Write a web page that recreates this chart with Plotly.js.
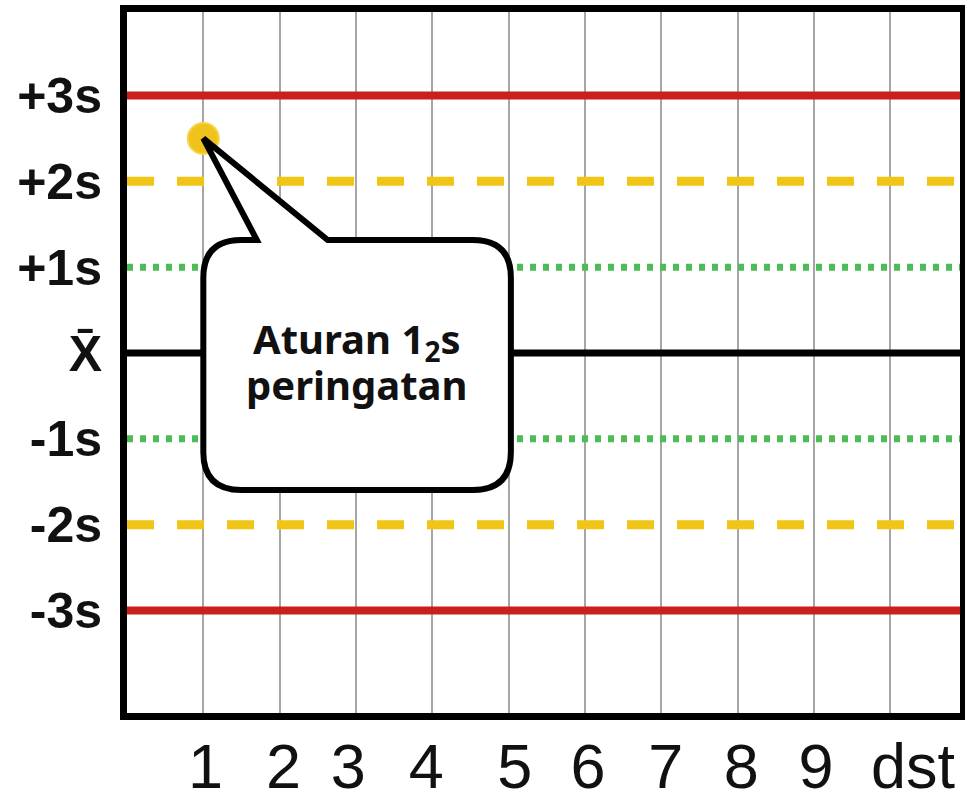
<!DOCTYPE html>
<html>
<head>
<meta charset="utf-8">
<script src="https://cdn.plot.ly/plotly-3.0.1.min.js"></script>
<style>html,body{margin:0;padding:0;background:#fff;}</style>
</head>
<body>
<div id="chart" style="width:965px;height:804px;"></div>
<script>
// ---- data ----
const limitLevels = [3, 2, 1, 0, -1, -2, -3];
const limitNames  = ["+3s", "+2s", "+1s", "mean", "-1s", "-2s", "-3s"];
const yTickText   = ["+3s", "+2s", "+1s", "X\u0304", "-1s", "-2s", "-3s"];
const runNumbers  = [1, 2, 3, 4, 5, 6, 7, 8, 9, 10];
const xTickText   = ["1", "2", "3", "4", "5", "6", "7", "8", "9", "dst"];
const xLabelPos   = [1.03, 2.05, 2.90, 3.92, 5.08, 6.04, 7.06, 8.05, 9.03, 10.30];
const pointX      = [1];
const pointY      = [2.5];
const calloutLine1 = "Aturan 1<sub>2</sub>s";
const calloutLine2 = "peringatan";

// ---- styles ----
const xRange = [0, 10.915];
const yRange = [-4.194, 3.973];
const lineStyles = {
  "3":  {color: "#c9201d", width: 8, dash: "solid"},
  "2":  {color: "#f1c516", width: 9, dash: "27px,23px"},
  "1":  {color: "#4dbb58", width: 7, dash: "6px,7px"},
  "0":  {color: "#000000", width: 7, dash: "solid"}
};

const traces = limitLevels.map((lv, i) => {
  const st = lineStyles[String(Math.abs(lv))];
  return {
    x: xRange, y: [lv, lv], mode: "lines", name: limitNames[i],
    line: {color: st.color, width: st.width, dash: st.dash},
    hoverinfo: "skip", showlegend: false
  };
});
traces.push({
  x: pointX, y: pointY, mode: "markers", showlegend: false,
  marker: {color: "#f0c21c", size: 31, line: {color: "#f5d44a", width: 2}}
});
// invisible trace carrying the label axis
traces.push({x: xLabelPos, y: xLabelPos.map(() => 0), xaxis: "x2", mode: "markers",
  showlegend: false, hoverinfo: "skip", marker: {opacity: 0, size: 1}});

// ---- callout (speech bubble) in data coordinates ----
const tip = [pointX[0], pointY[0]];
const box = {x0: 1.0, x1: 5.03, y0: -1.596, y1: 1.317, rx: 0.50, ry: 0.44};
const baseL = 1.70, baseR = 2.63;
const P = (x, y) => x.toFixed(4) + "," + y.toFixed(4);
const path =
  "M" + P(baseL, box.y1) +
  " L" + P(tip[0], tip[1]) +
  " L" + P(baseR, box.y1) +
  " L" + P(box.x1 - box.rx, box.y1) +
  " Q" + P(box.x1, box.y1) + " " + P(box.x1, box.y1 - box.ry) +
  " L" + P(box.x1, box.y0 + box.ry) +
  " Q" + P(box.x1, box.y0) + " " + P(box.x1 - box.rx, box.y0) +
  " L" + P(box.x0 + box.rx, box.y0) +
  " Q" + P(box.x0, box.y0) + " " + P(box.x0, box.y0 + box.ry) +
  " L" + P(box.x0, box.y1 - box.ry) +
  " Q" + P(box.x0, box.y1) + " " + P(box.x0 + box.rx, box.y1) +
  " Z";

const cx = (box.x0 + box.x1) / 2;
const tickFamily = "Liberation Sans, Arial, sans-serif";
const layout = {
  width: 965, height: 804,
  margin: {l: 127, r: 5, t: 12, b: 91, pad: 0},
  paper_bgcolor: "#ffffff", plot_bgcolor: "#ffffff",
  showlegend: false,
  xaxis: {
    range: xRange, tickvals: runNumbers, showticklabels: false,
    showgrid: true, gridcolor: "#a6a6a6", gridwidth: 2, zeroline: false,
    showline: true, mirror: true, linecolor: "#000", linewidth: 7, ticks: ""
  },
  xaxis2: {
    overlaying: "x", side: "bottom", range: xRange,
    tickvals: xLabelPos, ticktext: xTickText, showgrid: false, zeroline: false,
    showline: false, ticks: "", ticklabelstandoff: 11,
    tickfont: {family: tickFamily, size: 63, color: "#111"}
  },
  yaxis: {
    range: yRange, tickvals: limitLevels, ticktext: yTickText,
    showgrid: false, zeroline: false,
    showline: true, mirror: true, linecolor: "#000", linewidth: 7, ticks: "",
    ticklabelstandoff: 8,
    tickfont: {family: tickFamily, size: 50, color: "#111", weight: "bold"}
  },
  shapes: [{
    type: "path", xref: "x", yref: "y", path: path, layer: "above",
    fillcolor: "#ffffff", line: {color: "#000000", width: 6}
  }],
  annotations: [
    {x: cx, y: 0.15, xref: "x", yref: "y", text: calloutLine1, showarrow: false,
     xanchor: "center", yanchor: "middle",
     font: {family: "Noto Sans, Open Sans, sans-serif", size: 40, color: "#111", weight: "bold"}},
    {x: cx, y: -0.37, xref: "x", yref: "y", text: calloutLine2, showarrow: false,
     xanchor: "center", yanchor: "middle",
     font: {family: "Noto Sans, Open Sans, sans-serif", size: 40, color: "#111", weight: "bold"}}
  ]
};

Plotly.newPlot("chart", traces, layout, {staticPlot: true, displayModeBar: false});
</script>
</body>
</html>
